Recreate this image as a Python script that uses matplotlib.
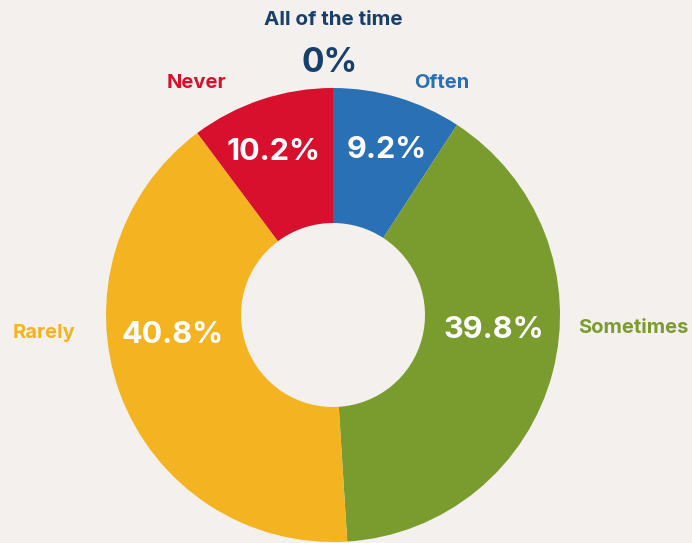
import matplotlib.pyplot as plt
import numpy as np

categories = ["Often", "Sometimes", "Rarely", "Never", "All of the time"]
shares = [9.2, 39.8, 40.8, 10.2, 0.0]
colors = ["#2970B5", "#7A9C2E", "#F4B421", "#D80F2D", "#173F6B"]

bg = "#F3F0ED"
plt.rcParams['font.family'] = ['Inter', 'DejaVu Sans']

fig = plt.figure(figsize=(6.92, 5.43), dpi=100, facecolor=bg)
ax = fig.add_axes([0, 0, 1, 1])
ax.set_facecolor(bg)

cx, cy = 333, 228
R, r_in = 227, 92

ax.pie(shares, colors=colors, startangle=90, counterclock=False,
       radius=R, center=(cx, cy), frame=True,
       wedgeprops=dict(width=R - r_in, linewidth=0))
ax.set_xlim(0, 692)
ax.set_ylim(0, 543)
ax.set_aspect('equal')
ax.axis('off')

total = sum(shares)
start = 90.0
for name, val, col in zip(categories, shares, colors):
    span = 360.0 * val / total
    mid = start - span / 2
    start -= span
    a = np.radians(mid)

    if val == 0:
        # empty slice: stack name and value above the ring
        ax.text(cx, cy + R + 68, name, ha='center', va='center',
                fontsize=14.8, fontweight='bold', color=col)
        ax.text(cx - 3, cy + R + 25, f"{val:g}%", ha='center', va='center',
                fontsize=24, fontweight='bold', color=col)
        continue

    if span > 90:
        # wide slice: pull labels towards the horizontal
        horiz = 0.0 if np.cos(a) > 0 else 180.0
        m = mid % 360
        if horiz == 0.0 and m > 180:
            m -= 360
        ta = np.radians(horiz + (m - horiz) * 0.35)
        rr = 0.71 * R
        ax.text(cx + rr * np.cos(ta), cy + rr * np.sin(ta), f"{val:g}%",
                ha='center', va='center', fontsize=22, fontweight='bold', color='white')

        oa = np.radians(horiz + (m - horiz) * 0.2)
        gap = 18 if np.cos(oa) > 0 else 31
        ox = cx + (R + gap) * np.cos(oa)
        oy = cy + (R + 22) * np.sin(oa)
        ha = 'left' if np.cos(oa) > 0 else 'right'
        ax.text(ox, oy, name, ha=ha, va='center', fontsize=14.5,
                fontweight='bold', color=col)
    else:
        ta = np.radians(mid - 3 * np.sin(2 * a))
        rr = 0.765 * R
        ax.text(cx + rr * np.cos(ta), cy + rr * np.sin(ta), f"{val:g}%",
                ha='center', va='center', fontsize=22, fontweight='bold', color='white')

        oa = np.radians(mid - 22 * np.sin(2 * a))
        ax.text(cx - 8 + 245 * np.cos(oa), cy + R + 5, name, ha='center', va='center',
                fontsize=14.5, fontweight='bold', color=col)

fig.savefig("out.png", dpi=100, facecolor=bg)
